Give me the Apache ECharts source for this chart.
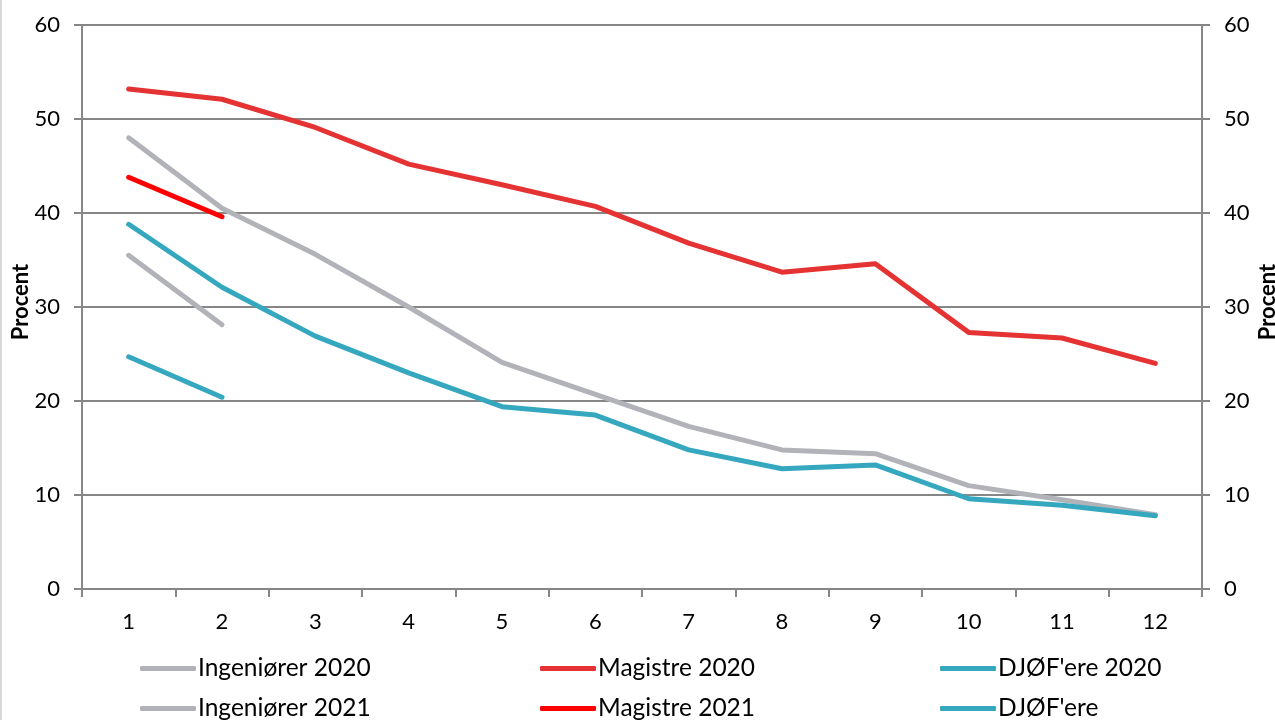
<!DOCTYPE html>
<html>
<head>
<meta charset="utf-8">
<script src="https://cdn.jsdelivr.net/npm/echarts@6/dist/echarts.min.js"></script>
<style>
html,body{margin:0;padding:0;background:#fff;}
#chart{width:1275px;height:720px;}
</style>
</head>
<body>
<div id="chart"></div>
<script>
const categories = ['1','2','3','4','5','6','7','8','9','10','11','12'];
const ingenioerer2020 = [48.0, 40.5, 35.6, 30.0, 24.1, 20.7, 17.3, 14.8, 14.4, 11.0, 9.5, 7.9];
const magistre2020   = [53.2, 52.1, 49.1, 45.2, 43.0, 40.7, 36.8, 33.7, 34.6, 27.3, 26.7, 24.0];
const djoef2020      = [38.8, 32.1, 26.9, 23.0, 19.4, 18.5, 14.8, 12.8, 13.2, 9.6, 8.9, 7.8];
const ingenioerer2021 = [35.5, 28.1];
const magistre2021   = [43.8, 39.6];
const djoef2021      = [24.7, 20.4];
const yTicks = [0, 10, 20, 30, 40, 50, 60];

const GRAY = '#B1B3B9', RED20 = '#E53232', RED21 = '#FF0000', TEAL = '#35A8C0';
const FONT = 'Lato, "Open Sans", sans-serif';

function pad(arr){ const out = arr.slice(); while(out.length < categories.length) out.push(null); return out; }
function line(name, data, color, yIdx){
  return { name, type:'line', data: pad(data), yAxisIndex: yIdx||0, showSymbol:false, symbol:'none',
    lineStyle:{ color, width:5, cap:'round', join:'round' }, itemStyle:{ color }, connectNulls:false, animation:false };
}
function leg(name, left, top){
  return { show:true, left, top, data:[name], orient:'horizontal', itemWidth:56, itemHeight:5, icon:'roundRect',
    padding:0, itemGap:0,
    textStyle:{fontSize:24.5, color:'#000', fontFamily:FONT, padding:[0,0,0,-3]} };
}

const chart = echarts.init(document.getElementById('chart'));
const yAxisCommon = {
  type:'value', min:0, max:60, interval:10,
  axisLine:{show:true, lineStyle:{color:'#868686', width:2}},
  axisTick:{show:true, length:8, lineStyle:{color:'#868686', width:2}},
  axisLabel:{fontSize:22, color:'#000', fontFamily:FONT, margin:22},
  nameLocation:'middle', name:'Procent', nameMoveOverlap:false,
  nameTextStyle:{fontSize:22, fontWeight:'bold', color:'#000', fontFamily:FONT, padding:[0,0,0,10]}
};
chart.setOption({
  animation:false,
  grid:{left:82, right:73, top:25, bottom:131, containLabel:false, outerBoundsMode:'none'},
  xAxis:{
    type:'category', data:categories, boundaryGap:true,
    axisLine:{lineStyle:{color:'#868686', width:2}},
    axisTick:{show:true, length:8, interval:0, alignWithLabel:false, lineStyle:{color:'#868686', width:2}},
    axisLabel:{fontSize:22, color:'#000', fontFamily:FONT, margin:22}
  },
  yAxis:[
    Object.assign({}, yAxisCommon, {position:'left', nameGap:50, nameRotate:90,
      splitLine:{show:true, lineStyle:{color:'#868686', width:2}}}),
    Object.assign({}, yAxisCommon, {position:'right', nameGap:55, nameRotate:90,
      splitLine:{show:false}})
  ],
  legend:[
    leg('Ingeniører 2020', 140, 656),
    leg('Ingeniører 2021', 140, 696),
    leg('Magistre 2020', 540, 656),
    leg('Magistre 2021', 540, 696),
    leg("DJØF'ere 2020", 940, 656),
    leg("DJØF'ere", 940, 696)
  ],
  graphic:[{type:'rect', left:0, top:0, shape:{width:2, height:720}, style:{fill:'#d9d9d9'}, silent:true}],
  series:[
    line('Ingeniører 2020', ingenioerer2020, GRAY),
    line('Magistre 2020', magistre2020, RED20),
    line("DJØF'ere 2020", djoef2020, TEAL),
    line('Ingeniører 2021', ingenioerer2021, GRAY),
    line('Magistre 2021', magistre2021, RED21),
    line("DJØF'ere", djoef2021, TEAL),
    { type:'line', yAxisIndex:1, data:[], silent:true }
  ]
});
</script>
</body>
</html>
